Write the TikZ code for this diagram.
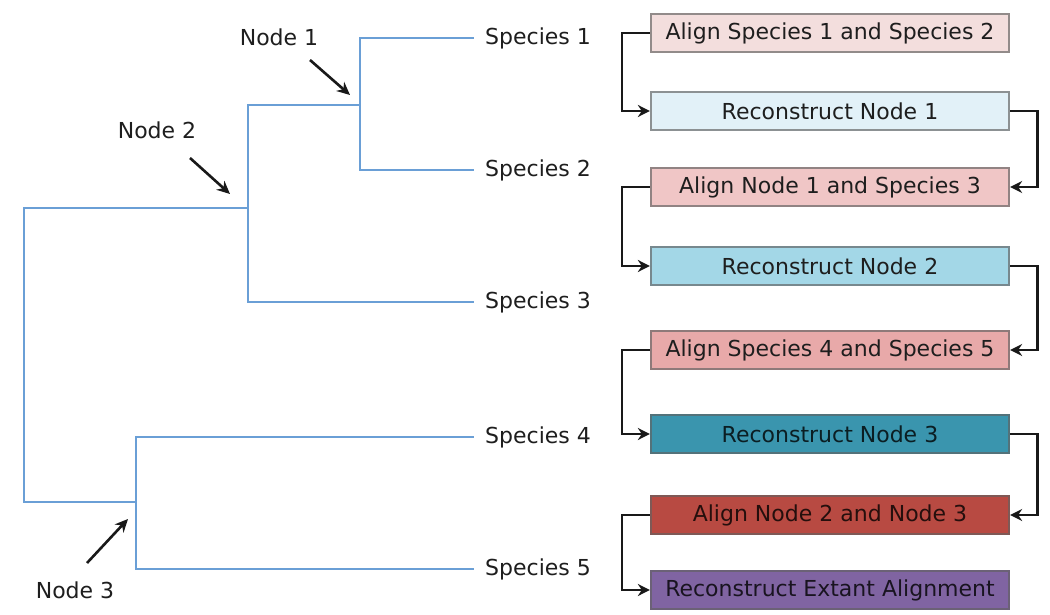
\documentclass[tikz,border=0pt]{standalone}
\usepackage{fontspec}
\setmainfont{DejaVu Sans}
\usetikzlibrary{arrows.meta}
\definecolor{treeblue}{HTML}{6A9FD6}
\definecolor{cA}{HTML}{F3DEDD}
\definecolor{cB}{HTML}{E2F1F8}
\definecolor{cC}{HTML}{F0C6C6}
\definecolor{cD}{HTML}{A3D7E7}
\definecolor{cE}{HTML}{E8A9A9}
\definecolor{cF}{HTML}{3A95AE}
\definecolor{cG}{HTML}{B84A42}
\definecolor{cH}{HTML}{8064A2}
\definecolor{txt}{HTML}{1E1E1E}
\tikzset{
  branch/.style={draw=treeblue, line width=2.8pt, line cap=rect},
  lbl/.style={font=\fontsize{22}{26}\selectfont, text=txt, inner sep=0pt},
  box/.style={draw=#1!45!black!75, line width=2.2pt, minimum width=358pt, minimum height=38pt,
              inner sep=0pt, font=\fontsize{22}{26}\selectfont, text=txt, fill=#1},
  conn/.style={draw=black!90, line width=2.8pt, -{Stealth[length=12pt,width=12pt]}},
  pointer/.style={draw=black!90, line width=2.6pt, -{Stealth[length=13pt,width=12pt]}},
}
\begin{document}
\begin{tikzpicture}[x=1pt,y=-1pt]
\useasboundingbox (0,0) rectangle (1050,615);
\fill[white] (0,0) rectangle (1050,615);
% tree coordinates
\coordinate (n1) at (360,105);
\coordinate (n2) at (248,208);
\coordinate (n3) at (136,502);
\coordinate (root) at (24,208);
% species labels
\node[lbl, anchor=west] (s1) at (485,38) {Species 1};
\node[lbl, anchor=west] (s2) at (485,170) {Species 2};
\node[lbl, anchor=west] (s3) at (485,302) {Species 3};
\node[lbl, anchor=west] (s4) at (485,437) {Species 4};
\node[lbl, anchor=west] (s5) at (485,569) {Species 5};
\coordinate (e1) at (473,38);
\coordinate (e2) at (473,170);
\coordinate (e3) at (473,302);
\coordinate (e4) at (473,437);
\coordinate (e5) at (473,569);
% branches
\draw[branch] (e1) -| (n1) |- (e2);
\draw[branch] (n1) -| (n2);
\draw[branch] (n2) |- (e3);
\draw[branch] (n2) -- (root) |- (n3);
\draw[branch] (e4) -| (n3) |- (e5);
% node labels and pointers
\node[lbl] (l1) at (279,37) {Node 1};
\node[lbl] (l2) at (157,130) {Node 2};
\node[lbl] (l3) at (75,590) {Node 3};
\coordinate (p1s) at (310,60);  \coordinate (p1e) at (350,95);
\coordinate (p2s) at (190,158); \coordinate (p2e) at (230,194);
\coordinate (p3s) at (87,563);  \coordinate (p3e) at (128,519);
\draw[pointer] (p1s) -- (p1e);
\draw[pointer] (p2s) -- (p2e);
\draw[pointer] (p3s) -- (p3e);
% boxes
\node[box=cA] (b1) at (830,33) {Align Species 1 and Species 2};
\node[box=cB] (b2) at (830,111) {Reconstruct Node 1};
\node[box=cC] (b3) at (830,187) {Align Node 1 and Species 3};
\node[box=cD] (b4) at (830,266) {Reconstruct Node 2};
\node[box=cE] (b5) at (830,350) {Align Species 4 and Species 5};
\node[box=cF, text=black!80!cF] (b6) at (830,434) {Reconstruct Node 3};
\node[box=cG, text=black!80!cG] (b7) at (830,515) {Align Node 2 and Node 3};
\node[box=cH, text=black!80!cH] (b8) at (830,590) {Reconstruct Extant Alignment};
% connectors
\draw[conn] (b1.west) -- ++(-28,0) |- (b2.west);
\draw[conn] (b2.east) -- ++(27,0) |- (b3.east);
\draw[conn] (b3.west) -- ++(-28,0) |- (b4.west);
\draw[conn] (b4.east) -- ++(27,0) |- (b5.east);
\draw[conn] (b5.west) -- ++(-28,0) |- (b6.west);
\draw[conn] (b6.east) -- ++(27,0) |- (b7.east);
\draw[conn] (b7.west) -- ++(-28,0) |- (b8.west);
\end{tikzpicture}
\end{document}
